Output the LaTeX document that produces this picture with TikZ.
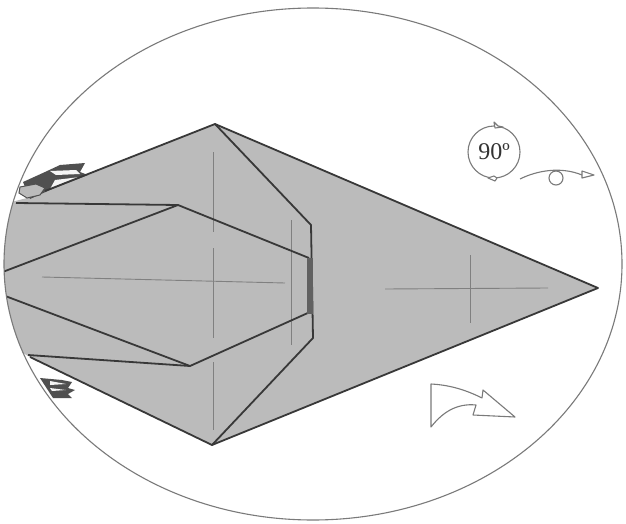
\documentclass[tikz,border=0pt]{standalone}
\usepackage{fontspec}
\setmainfont{Liberation Serif}
\definecolor{paper}{HTML}{BBBBBB}
\definecolor{ink}{HTML}{383838}
\definecolor{crease}{HTML}{808080}
\definecolor{rim}{HTML}{7A7A7A}
\definecolor{fin}{HTML}{505050}
\tikzset{
  edge/.style={draw=ink,line width=1.8pt,line join=round},
  creaseline/.style={draw=crease,line width=0.9pt},
  sketch/.style={draw=rim,line width=1.1pt,line join=round},
}
\begin{document}
\begin{tikzpicture}[x=1pt,y=-1pt]
\useasboundingbox (0,0) rectangle (626,524);
\fill[white] (0,0) rectangle (626,524);
\begin{scope}
\clip (313,264) ellipse [x radius=309,y radius=256];
\fill[paper] (215,124) -- (598,288) -- (212,445) -- (30,357) -- (0,340) -- (0,205) -- (27,198) -- cycle;
% fins
\fill[fin] (23,182) -- (45,172) -- (60,165) -- (85,163) -- (80,172) -- (88,175) -- (50,190) -- (30,199) -- cycle;
\fill[white!85!paper] (50,171) -- (76,170) -- (80,174) -- (56,175) -- cycle;
\fill[white!85!paper] (55,180) -- (80,177) -- (62,184) -- (50,189) -- cycle;
\draw[fin,line width=1pt,fill=paper] (20,187) -- (36,184) -- (45,188) -- (40,195) -- (27,198) -- (19,193) -- cycle;
\fill[fin] (40,378) -- (62,380) -- (72,382) -- (68,388) -- (75,390) -- (68,394) -- (72,398) -- (53,398) -- cycle;
\fill[white!85!paper] (50,381) -- (66,384) -- (50,385) -- cycle;
\fill[white!85!paper] (50,388) -- (66,390) -- (52,391) -- cycle;
% creases
\draw[creaseline] (42,277) -- (285,283);
\draw[creaseline] (213,152) -- (213,232);
\draw[creaseline] (213,248) -- (213,338);
\draw[creaseline] (213,362) -- (213,430);
\draw[creaseline] (291,220) -- (291,345);
\draw[creaseline] (385,289) -- (548,288);
\draw[creaseline] (470,255) -- (470,323);
% folded edges
\draw[edge] (45,191) -- (215,124) -- (598,288) -- (212,445) -- (30,357);
\draw[edge] (215,124) -- (311,225) -- (313,338) -- (212,445);
\draw[edge] (16,203) -- (178,205) -- (309,258);
\draw[edge] (0,273) -- (178,205);
\draw[edge] (0,294) -- (190,366) -- (310,312);
\draw[edge] (28,355) -- (190,366);
\fill[black!62] (307,258) rectangle (313,314);
\end{scope}
\draw[rim,line width=1.1pt] (313,264) ellipse [x radius=309,y radius=256];
% rotation symbol
\node[circle,sketch,minimum size=52pt,inner sep=0pt,font=\fontsize{24}{26}\selectfont,text=black!80] (turn) at (494,152) {90º};
\draw[sketch,fill=white] (494,122) -- (498,126) -- (503,127) -- (495,128) -- cycle;
\draw[sketch,fill=white] (494,176) -- (488,178) -- (495,181) -- (497,178) -- cycle;
% small flip arrow
\coordinate (flipa) at (520,179);
\coordinate (flipb) at (582,175);
\draw[sketch] (flipa) .. controls (536,171) and (560,166) .. (flipb);
\draw[sketch,fill=white] (582,171) -- (594,175) -- (582,178) -- cycle;
\draw[sketch] (556,178) circle [radius=7];
% big arrow
\draw[sketch,fill=white] (431,384) -- (431,427) .. controls (442,413) and (456,403) .. (476,405)
  -- (473,415) -- (515,417) -- (483,390) -- (482,398) .. controls (466,390) and (450,385) .. cycle;
\end{tikzpicture}
\end{document}
